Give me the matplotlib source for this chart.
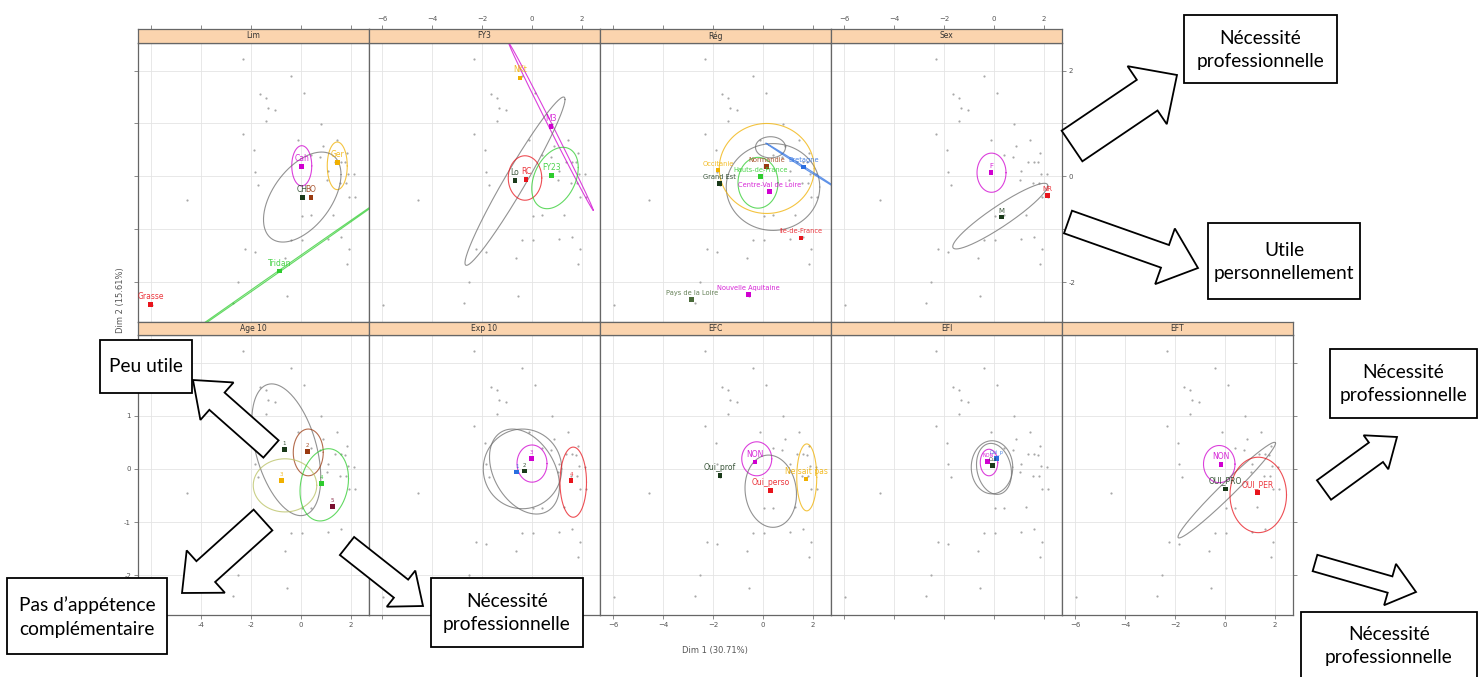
import numpy as np
import matplotlib.pyplot as plt
from matplotlib.patches import Polygon, Rectangle

W, H = 1479, 677

# individuals, same cloud in every panel (Dim 1, Dim 2)
ind_x = [-2.32, -0.39, 0.11, -1.65, -1.41, -1.33, -1.05, -1.39, 0.81, -2.32,
         -0.12, 1.44, 0.88, -1.88, 1.85, 0.41, 0.75, 1.35, 1.61, 1.75,
         -1.83, 1.08, 1.88, 2.12, 1.05, 1.55, 1.80, -1.71, 1.91, 2.15,
         -4.55, 0.05, 0.41, 1.28, 1.59, -0.39, 0.05, 1.08, 1.91, -2.23,
         -1.83, -0.65, 1.82, -2.52, -0.58, -2.72, -5.96]
ind_y = [2.21, 1.89, 1.58, 1.55, 1.48, 1.30, 1.25, 1.04, 0.99, 0.81,
         0.69, 0.69, 0.57, 0.49, 0.44, 0.40, 0.36, 0.28, 0.28, 0.27,
         0.09, 0.10, 0.05, 0.04, -0.06, -0.13, -0.13, -0.16, -0.38, -0.38,
         -0.45, -0.74, -0.73, -0.72, -1.14, -1.21, -1.20, -1.19, -1.37, -1.38,
         -1.42, -1.54, -1.65, -1.99, -2.25, -2.40, -2.42]

panel_names = ['Lim', 'FY3', 'Rég', 'Sex', 'Age 10', 'Exp 10', 'EFC', 'EFI', 'EFT']

MAG, RED, GRN, BLK, ORA, BLU = '#d000d0', '#e8141c', '#2ecc2e', '#1a3a1a', '#f0b000', '#2a6ee0'
BRN, DRD, OLV, GRY = '#9a3a10', '#7a1030', '#4a6a3a', '#6e6e6e'

# category points per panel
lim_lab = ['Cah', 'Ger', 'CH', 'BO', 'Tridan', 'Grasse']
lim_x = [0.03, 1.45, 0.05, 0.40, -0.87, -6.01]
lim_y = [0.19, 0.26, -0.40, -0.40, -1.79, -2.42]
lim_col = [MAG, ORA, BLK, BRN, GRN, RED]

fy_lab = ['NKt', 'M3', 'FY23', 'Lo', 'RC']
fy_x = [-0.48, 0.76, 0.79, -0.68, -0.24]
fy_y = [1.86, 0.94, 0.02, -0.08, -0.06]
fy_col = [ORA, MAG, GRN, BLK, RED]

reg_lab = ['Grand Est', 'Normandie', 'Bretagne', 'Hauts-de-France', 'Occitanie',
           'Centre-Val de Loire', 'Ile-de-France', 'Nouvelle Aquitaine', 'Pays de la Loire']
reg_x = [-1.75, 0.15, 1.61, -0.10, -1.80, 0.25, 1.52, -0.57, -2.85]
reg_y = [-0.13, 0.19, 0.18, 0.00, 0.12, -0.28, -1.16, -2.23, -2.32]
reg_col = [BLK, BRN, BLU, GRN, ORA, MAG, RED, MAG, OLV]

sex_lab = ['F', 'M', 'NR']
sex_x = [-0.12, 0.31, 2.15]
sex_y = [0.07, -0.77, -0.36]
sex_col = [MAG, BLK, RED]

age_lab = ['1', '2', '3', '4', '5']
age_x = [-0.67, 0.27, -0.77, 0.83, 1.25]
age_y = [0.36, 0.33, -0.22, -0.27, -0.71]
age_col = [BLK, BRN, ORA, GRN, DRD]

exp_lab = ['1', '2', '3', '4']
exp_x = [-0.61, -0.31, -0.01, 1.56]
exp_y = [-0.06, -0.04, 0.20, -0.22]
exp_col = [BLU, BLK, MAG, RED]

efc_lab = ['Oui_prof', 'NON', 'Oui_perso', 'Ne sait pas']
efc_x = [-1.72, -0.32, 0.31, 1.72]
efc_y = [-0.13, 0.13, -0.41, -0.19]
efc_col = [BLK, MAG, RED, ORA]

efi_lab = ['Oui', 'NON', 'Oui_p']
efi_x = [-0.05, -0.25, 0.10]
efi_y = [0.06, 0.14, 0.20]
efi_col = [BLK, MAG, BLU]

eft_lab = ['NON', 'OUI_PRO', 'OUI_PER']
eft_x = [-0.16, 0.03, 1.29]
eft_y = [0.08, -0.38, -0.45]
eft_col = [MAG, BLK, RED]

# confidence ellipses: centre x, centre y, half-width x, half-height y, phase (deg)
lim_ell = [(0.03, 0.20, 0.40, 0.38, 90), (1.45, 0.20, 0.40, 0.45, 90),
           (0.05, -0.39, 1.55, 0.85, 60), (-0.87, -1.79, 5.0, 1.65, 0.6)]
lim_ecol = [MAG, ORA, GRY, GRN]
fy_ell = [(0.76, 0.94, 1.69, 1.58, 177), (-0.68, -0.09, 2.0, 1.59, 14),
          (-0.28, -0.03, 0.67, 0.42, 90), (0.92, -0.03, 0.93, 0.58, 70)]
fy_ecol = [MAG, GRY, RED, GRN]
reg_ell = [(0.40, -0.20, 1.87, 0.82, 90), (0.15, 0.15, 1.90, 0.85, 90),
           (-0.20, -0.12, 0.80, 0.48, 90), (0.30, 0.55, 0.60, 0.20, 90),
           (1.61, 0.18, 1.50, 0.45, 178)]
reg_ecol = [GRY, ORA, GRN, GRY, BLU]
sex_ell = [(-0.10, 0.07, 0.58, 0.37, 90), (0.25, -0.75, 1.90, 0.62, 22)]
sex_ecol = [MAG, GRY]
age_ell = [(-0.59, 0.36, 1.38, 1.24, 115), (0.29, 0.31, 0.60, 0.44, 90),
           (-0.64, -0.31, 1.27, 0.50, 90), (0.93, -0.30, 0.97, 0.68, 80)]
age_ecol = [GRY, BRN, '#b8c060', GRN]
exp_ell = [(-0.38, 0.00, 1.57, 0.75, 90), (-0.30, -0.05, 1.40, 0.80, 110),
           (0.00, 0.10, 0.60, 0.35, 90), (1.65, -0.25, 0.53, 0.66, 90)]
exp_ecol = [GRY, GRY, MAG, RED]
efc_ell = [(-0.25, 0.19, 0.60, 0.32, 90), (0.31, -0.42, 1.03, 0.68, 95),
           (1.75, -0.16, 0.40, 0.63, 90)]
efc_ecol = [MAG, GRY, ORA]
efi_ell = [(-0.08, 0.03, 0.83, 0.50, 90), (0.00, 0.00, 0.70, 0.48, 100),
           (-0.20, 0.12, 0.35, 0.25, 90)]
efi_ecol = [GRY, GRY, MAG]
eft_ell = [(-0.23, 0.09, 0.63, 0.35, 90), (0.07, -0.40, 1.95, 0.90, 12),
           (1.33, -0.49, 1.13, 0.71, 90)]
eft_ecol = [MAG, GRY, RED]

panels = [
    (lim_lab, lim_x, lim_y, lim_col, lim_ell, lim_ecol, 5.5),
    (fy_lab, fy_x, fy_y, fy_col, fy_ell, fy_ecol, 5.5),
    (reg_lab, reg_x, reg_y, reg_col, reg_ell, reg_ecol, 4.8),
    (sex_lab, sex_x, sex_y, sex_col, sex_ell, sex_ecol, 5),
    (age_lab, age_x, age_y, age_col, age_ell, age_ecol, 4),
    (exp_lab, exp_x, exp_y, exp_col, exp_ell, exp_ecol, 4),
    (efc_lab, efc_x, efc_y, efc_col, efc_ell, efc_ecol, 5.5),
    (efi_lab, efi_x, efi_y, efi_col, efi_ell, efi_ecol, 3.5),
    (eft_lab, eft_x, eft_y, eft_col, eft_ell, eft_ecol, 5.5),
]

# annotation boxes and block arrows (pixel coordinates of the slide)
box_text = ['Nécessité\nprofessionnelle', 'Utile\npersonnellement', 'Peu utile',
            'Pas d’appétence\ncomplémentaire', 'Nécessité\nprofessionnelle',
            'Nécessité\nprofessionnelle', 'Nécessité\nprofessionnelle']
box_x0 = [1184, 1208, 100, 7, 431, 1330, 1301]
box_y0 = [15, 223, 340, 578, 578, 349, 612]
box_x1 = [1337, 1360, 192, 167, 583, 1477, 1477]
box_y1 = [83, 299, 393, 654, 647, 418, 695]
box_ty = [50, 262, 367, 617, 613, 384, 646]

arrow_tail = [(1072, 146), (1068, 222), (271, 449), (263, 520), (347, 546), (1324, 490), (1315, 563)]
arrow_tip = [(1177, 75), (1198, 268), (193, 380), (182, 593), (423, 606), (1397, 437), (1416, 592)]
arrow_w = [37, 24, 23, 28, 23, 24, 17]
arrow_hw = [70, 59, 50, 57, 46, 42, 43]
arrow_hl = [36, 35, 32, 32, 28, 26, 27]

XL, YL = (-6.52, 2.72), (-2.75, 2.52)
TICKC, LABC = '#777777', '#555555'


def fbox(x0, y0, x1, y1):
    return [x0 / W, 1 - y1 / H, (x1 - x0) / W, (y1 - y0) / H]


def ellipse(ax, cx, cy, a, b, ph, c):
    t = np.linspace(0, 2 * np.pi, 300)
    ax.plot(cx + a * np.cos(t), cy + b * np.cos(t - np.radians(ph)),
            color=c, lw=0.8, alpha=0.75, zorder=3)


def block_arrow(ax, tail, tip, w, hw, hl):
    tail = np.array(tail, float)
    tip = np.array(tip, float)
    u = (tip - tail) / np.hypot(*(tip - tail))
    n = np.array([-u[1], u[0]])
    base = tip - u * hl
    pts = [tail + n * w / 2, base + n * w / 2, base + n * hw / 2, tip,
           base - n * hw / 2, base - n * w / 2, tail - n * w / 2]
    ax.add_patch(Polygon(pts, closed=True, fc='white', ec='black', lw=1.3, zorder=10))


fig = plt.figure(figsize=(W / 100, H / 100), dpi=100)

col_left = [138 + 231 * i for i in range(5)]
slots = [(0, 0), (0, 1), (0, 2), (0, 3), (1, 0), (1, 1), (1, 2), (1, 3), (1, 4)]
row_y = [(43, 322), (335, 615)]
strip_y = [(29, 43), (322, 335)]

for k, (row, col) in enumerate(slots):
    lab, xs, ys, cols, ell, ecol, fs = panels[k]
    x0 = col_left[col]
    y0, y1 = row_y[row]
    ax = fig.add_axes(fbox(x0, y0, x0 + 231, y1))
    ax.set_xlim(*XL)
    ax.set_ylim(*YL)
    ax.set_xticks([-6, -4, -2, 0, 2])
    ax.set_yticks([-2, -1, 0, 1, 2])
    ax.grid(True, color='#e4e4e4', lw=0.6)
    ax.set_axisbelow(True)
    for s in ax.spines.values():
        s.set_color('#666666')
        s.set_linewidth(0.9)

    ax.scatter(ind_x, ind_y, s=2.5, c='#a8a8a8', lw=0, zorder=2)
    for (cx, cy, a, b, ph), c in zip(ell, ecol):
        ellipse(ax, cx, cy, a, b, ph, c)
    ax.scatter(xs, ys, s=11, c=cols, marker='s', lw=0, zorder=4)
    for l, x, y, c in zip(lab, xs, ys, cols):
        ax.annotate(l, (x, y), xytext=(0, 2.5), textcoords='offset points',
                    ha='center', va='bottom', fontsize=fs, color=c, alpha=0.85, zorder=5)

    ax.tick_params(direction='out', length=3, width=0.6, color=TICKC,
                   labelsize=5, labelcolor=LABC, pad=2)
    ax.tick_params(axis='x', top=False, labeltop=False,
                   bottom=(row == 1), labelbottom=(row == 1 and col in (0, 2, 4)))
    ax.tick_params(axis='y', left=(col == 0), labelleft=(col == 0 and row == 1),
                   right=(col == 3 and row == 0) or col == 4,
                   labelright=(col == 3 and row == 0))
    if col == 3 and row == 0:
        ax.set_yticklabels(['-2', '', '0', '', '2'])
    if col == 0 and row == 1:
        # the slide's boxes sit over these two labels
        ax.set_yticklabels(['-2', '-1', '0', '1', ''])
        ax.set_xticklabels(['', '-4', '-2', '0', '2'])

    # strip with the variable name
    sy0, sy1 = strip_y[row]
    st = fig.add_axes(fbox(x0, sy0, x0 + 231, sy1))
    st.set_facecolor('#fbd4ae')
    st.set_xlim(*XL)
    st.set_yticks([])
    st.set_xticks([-6, -4, -2, 0, 2])
    for s in st.spines.values():
        s.set_color('#666666')
        s.set_linewidth(0.9)
    st.tick_params(axis='x', bottom=False, labelbottom=False, top=(row == 0),
                   labeltop=(row == 0 and col in (1, 3)), direction='out', length=3,
                   width=0.6, color=TICKC, labelsize=5, labelcolor=LABC, pad=2)
    st.text(0.5, 0.5, panel_names[k], transform=st.transAxes, ha='center',
            va='center', fontsize=5.5, color='#333333')

fig.text(715 / W, 1 - 651 / H, 'Dim 1 (30.71%)', ha='center', va='center',
         fontsize=6, color=LABC)
fig.text(120 / W, 1 - 300 / H, 'Dim 2 (15.61%)', ha='center', va='center',
         rotation=90, fontsize=6, color=LABC)

# overlay for the slide annotations
ov = fig.add_axes([0, 0, 1, 1], zorder=20)
ov.set_xlim(0, W)
ov.set_ylim(H, 0)
ov.axis('off')
ov.patch.set_alpha(0)

for tail, tip, w, hw, hl in zip(arrow_tail, arrow_tip, arrow_w, arrow_hw, arrow_hl):
    block_arrow(ov, tail, tip, w, hw, hl)

for t, x0, y0, x1, y1, ty in zip(box_text, box_x0, box_y0, box_x1, box_y1, box_ty):
    ov.add_patch(Rectangle((x0, y0), x1 - x0, y1 - y0, fc='white', ec='black',
                           lw=1.3, zorder=11))
    ov.text((x0 + x1) / 2, ty, t, ha='center', va='center', fontsize=13.8,
            family='Lato', linespacing=1.45, zorder=12)

fig.savefig('out.png', dpi=100)
